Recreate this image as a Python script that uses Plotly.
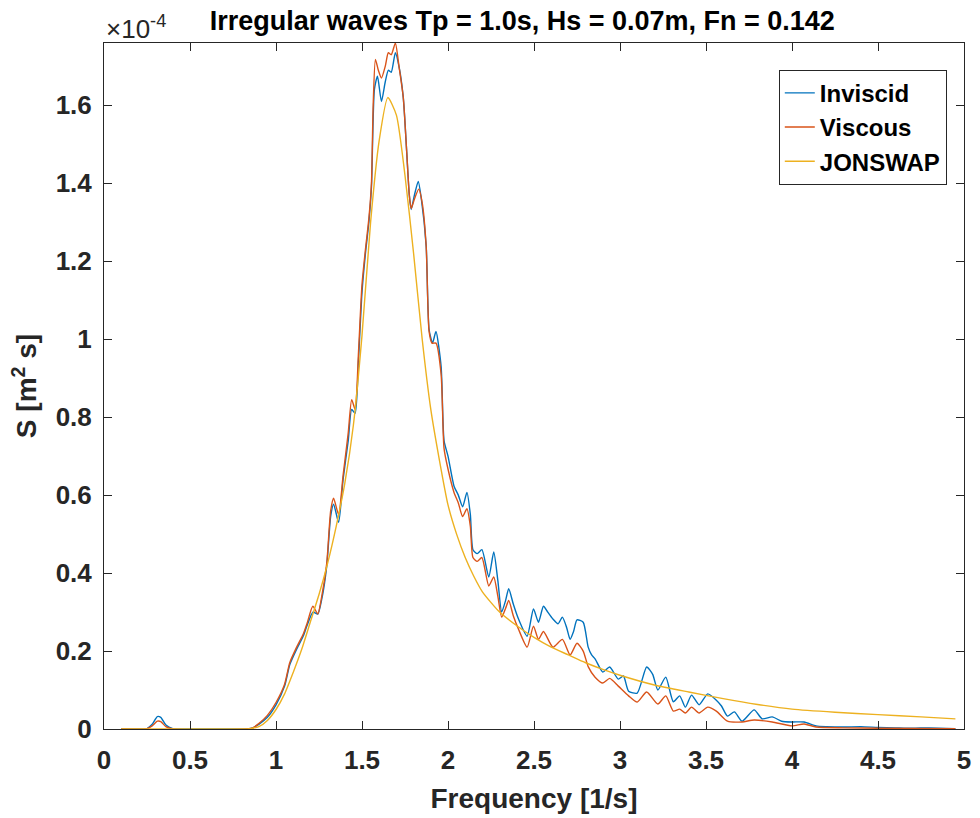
import plotly.graph_objects as go

# Frequency [1/s] and spectral density S in units of 1e-4 m^2 s
f_inviscid = [0.10, 0.20, 0.25, 0.28, 0.31, 0.33, 0.36, 0.40, 0.45, 0.60, 0.80, 0.86, 0.90, 0.95,
              1.00, 1.05, 1.08, 1.12, 1.16, 1.18, 1.215, 1.243, 1.266, 1.295, 1.318, 1.335, 1.364,
              1.39, 1.42, 1.44, 1.46, 1.48, 1.50, 1.52, 1.54, 1.555, 1.572, 1.59, 1.613, 1.635,
              1.653, 1.67, 1.694, 1.715, 1.74, 1.76, 1.775, 1.786, 1.805, 1.827, 1.845, 1.873,
              1.89, 1.91, 1.93, 1.96, 1.977, 2.00, 2.035, 2.06, 2.085, 2.11, 2.13, 2.145, 2.17,
              2.197, 2.237, 2.266, 2.29, 2.312, 2.335, 2.353, 2.38, 2.41, 2.46, 2.497, 2.526,
              2.555, 2.58, 2.61, 2.64, 2.665, 2.69, 2.71, 2.73, 2.75, 2.786, 2.815, 2.835, 2.855,
              2.90, 2.94, 2.99, 3.02, 3.05, 3.10, 3.155, 3.19, 3.22, 3.266, 3.31, 3.347, 3.38,
              3.416, 3.46, 3.51, 3.56, 3.59, 3.625, 3.665, 3.71, 3.78, 3.827, 3.885, 3.94, 4.00,
              4.07, 4.14, 4.20, 4.30, 4.40, 4.50, 4.60, 4.70, 4.80, 4.95]
s_inviscid = [0, 0, 0.001, 0.012, 0.032, 0.030, 0.010, 0.001, 0, 0, 0, 0.002, 0.012, 0.030,
              0.062, 0.110, 0.165, 0.205, 0.240, 0.265, 0.300, 0.295, 0.333, 0.418, 0.546, 0.577, 0.530,
              0.640, 0.740, 0.820, 0.810, 0.950, 1.120, 1.220, 1.300, 1.390, 1.640, 1.675, 1.610, 1.660,
              1.690, 1.685, 1.735, 1.700, 1.620, 1.480, 1.370, 1.333, 1.370, 1.405, 1.360, 1.240,
              1.025, 0.990, 1.020, 0.930, 0.740, 0.700, 0.623, 0.600, 0.570, 0.607, 0.550, 0.460, 0.450,
              0.460, 0.390, 0.454, 0.380, 0.300, 0.330, 0.360, 0.320, 0.282, 0.238, 0.308, 0.274,
              0.315, 0.300, 0.282, 0.270, 0.287, 0.260, 0.230, 0.250, 0.280, 0.274, 0.210, 0.190, 0.180,
              0.146, 0.159, 0.128, 0.136, 0.097, 0.092, 0.159, 0.140, 0.100, 0.133, 0.070, 0.085, 0.056,
              0.087, 0.062, 0.090, 0.074, 0.059, 0.033, 0.044, 0.020, 0.049, 0.026, 0.031, 0.020, 0.018,
              0.018, 0.008, 0.006, 0.005, 0.006, 0.004, 0.003, 0.002, 0.003, 0.001]

f_viscous = [0.10, 0.25, 0.28, 0.31, 0.33, 0.36, 0.40, 0.86, 0.90, 0.95, 1.00, 1.05, 1.08, 1.12,
             1.16, 1.18, 1.214, 1.243, 1.266, 1.295, 1.318, 1.335, 1.364, 1.39, 1.42, 1.44, 1.46,
             1.48, 1.50, 1.52, 1.54, 1.555, 1.565, 1.578, 1.595, 1.613, 1.635, 1.653, 1.67, 1.694,
             1.715, 1.74, 1.76, 1.775, 1.786, 1.805, 1.83, 1.85, 1.873, 1.89, 1.907, 1.93, 1.96,
             1.977, 2.00, 2.035, 2.06, 2.085, 2.11, 2.13, 2.145, 2.17, 2.197, 2.237, 2.266, 2.29,
             2.312, 2.335, 2.353, 2.38, 2.41, 2.46, 2.497, 2.526, 2.555, 2.61, 2.665, 2.71, 2.75,
             2.786, 2.815, 2.855, 2.90, 2.94, 2.99, 3.05, 3.10, 3.155, 3.22, 3.266, 3.31, 3.347,
             3.38, 3.416, 3.46, 3.51, 3.56, 3.625, 3.71, 3.78, 3.885, 4.00, 4.07, 4.14, 4.30, 4.50,
             4.95]
s_viscous = [0, 0.001, 0.008, 0.020, 0.019, 0.006, 0, 0.002, 0.014, 0.035, 0.068, 0.115, 0.170, 0.210,
             0.245, 0.270, 0.315, 0.295, 0.340, 0.425, 0.560, 0.592, 0.550, 0.650, 0.760, 0.845, 0.820,
             0.970, 1.140, 1.230, 1.310, 1.400, 1.600, 1.718, 1.690, 1.670, 1.700, 1.735, 1.730, 1.760,
             1.700, 1.620, 1.480, 1.370, 1.335, 1.360, 1.385, 1.350, 1.240, 1.020, 0.990, 0.990, 0.910,
             0.720, 0.667, 0.607, 0.580, 0.545, 0.565, 0.520, 0.440, 0.430, 0.440, 0.367, 0.390, 0.340,
             0.287, 0.310, 0.330, 0.290, 0.256, 0.210, 0.264, 0.230, 0.250, 0.210, 0.230, 0.190, 0.220,
             0.200, 0.160, 0.133, 0.118, 0.130, 0.110, 0.085, 0.069, 0.095, 0.064, 0.085, 0.046, 0.051,
             0.041, 0.056, 0.041, 0.056, 0.046, 0.020, 0.018, 0.023, 0.018, 0.008, 0.013, 0.005, 0.003, 0.002,
             0.001]

f_jonswap = [0.10, 0.50, 0.80, 0.85, 0.90, 0.95, 1.00, 1.05, 1.10, 1.15, 1.20, 1.25, 1.30, 1.35,
             1.40, 1.45, 1.50, 1.55, 1.60, 1.65, 1.70, 1.75, 1.80, 1.85, 1.90, 1.95, 2.00, 2.05,
             2.10, 2.15, 2.20, 2.30, 2.40, 2.50, 2.60, 2.70, 2.80, 2.90, 3.00, 3.20, 3.40, 3.60,
             3.80, 4.00, 4.25, 4.50, 4.75, 4.95]
s_jonswap = [0, 0, 0, 0.001, 0.006, 0.022, 0.050, 0.090, 0.145, 0.205, 0.275, 0.345, 0.425, 0.520,
             0.630, 0.780, 1.010, 1.300, 1.510, 1.620, 1.575, 1.420, 1.220, 1.000, 0.820, 0.690, 0.575, 0.500,
             0.440, 0.392, 0.352, 0.300, 0.265, 0.235, 0.210, 0.190, 0.170, 0.153, 0.138, 0.113, 0.095, 0.078,
             0.063, 0.051, 0.043, 0.037, 0.031, 0.026]

SCALE = 1e-4
y_ticks = [0, 0.2, 0.4, 0.6, 0.8, 1.0, 1.2, 1.4, 1.6]
y_tick_labels = ["0", "0.2", "0.4", "0.6", "0.8", "1", "1.2", "1.4", "1.6"]
x_ticks = [0, 0.5, 1, 1.5, 2, 2.5, 3, 3.5, 4, 4.5, 5]
x_tick_labels = ["0", "0.5", "1", "1.5", "2", "2.5", "3", "3.5", "4", "4.5", "5"]
y_max = 1.76

FONT = "Liberation Sans"
INK = "#262626"

fig = go.Figure()
series = [("Inviscid", f_inviscid, s_inviscid, "#0072BD"),
          ("Viscous", f_viscous, s_viscous, "#D95319"),
          ("JONSWAP", f_jonswap, s_jonswap, "#EDB120")]
for name, fx, sy, col in series:
    fig.add_trace(go.Scatter(x=fx, y=[v * SCALE for v in sy], mode="lines", name=name,
                             line=dict(color=col, width=1.4, shape="spline", smoothing=0.6)))

axis_common = dict(showgrid=False, zeroline=False, showline=True, linecolor=INK, linewidth=1,
                   mirror="ticks", ticks="inside", ticklen=8, tickcolor=INK,
                   tickfont=dict(family=FONT, size=26, color=INK, weight="bold"))

fig.update_layout(
    width=980, height=818,
    margin=dict(l=104, r=9, t=43, b=88),
    paper_bgcolor="white", plot_bgcolor="white",
    title=dict(text="Irregular waves Tp = 1.0s, Hs = 0.07m, Fn = 0.142",
               font=dict(family=FONT, size=27, color="black", weight="bold"),
               x=0.533, xanchor="center", y=0.975, yanchor="middle"),
    xaxis=dict(range=[0, 5], tickvals=x_ticks, ticktext=x_tick_labels, ticklabelstandoff=8,
               title=dict(text="Frequency [1/s]", standoff=14,
                          font=dict(family=FONT, size=28, color=INK, weight="bold")),
               **axis_common),
    yaxis=dict(range=[0, y_max * SCALE], tickvals=[v * SCALE for v in y_ticks], ticktext=y_tick_labels,
               ticklabelstandoff=6,
               title=dict(text="S [m<sup>2</sup> s]", standoff=10,
                          font=dict(family=FONT, size=28, color=INK, weight="bold")),
               **axis_common),
    legend=dict(x=0.98, y=0.961, xanchor="right", yanchor="top",
                bgcolor="white", bordercolor=INK, borderwidth=1,
                font=dict(family=FONT, size=24, color="black", weight="bold"),
                tracegroupgap=0),
    showlegend=True,
)

fig.add_annotation(text="\u00d710<sup>-4</sup>", xref="paper", yref="paper", x=0, y=1.0,
                   xanchor="left", yanchor="bottom", showarrow=False, yshift=-3,
                   font=dict(family=FONT, size=26, color=INK))

fig.write_html("out.html")
